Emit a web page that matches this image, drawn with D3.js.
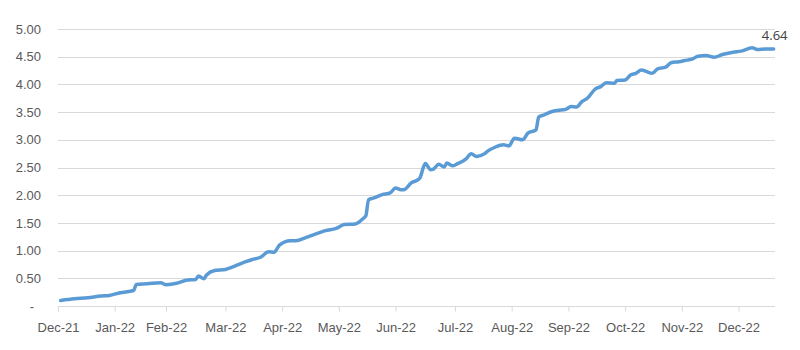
<!DOCTYPE html>
<html>
<head>
<meta charset="utf-8">
<script src="https://cdn.jsdelivr.net/npm/d3@7"></script>
<style>
  body { margin: 0; background: #fff; }
  svg { font-family: "Open Sans", "Liberation Sans", sans-serif; }
  .grid line { stroke: #d9d9d9; stroke-width: 1; }
  .axis text { fill: #595959; font-size: 13px; }
</style>
</head>
<body>
<svg id="chart" width="800" height="350"></svg>
<script>
// trading-day index from start of Dec-21
var dayIndex = [1, 6, 11, 16, 19, 23, 28, 29, 33, 38, 40, 44, 48, 51, 52, 54, 55, 58, 62, 65,
  69, 72, 75, 78, 80, 82, 86, 88, 92, 96, 99, 103, 106, 110, 113, 114, 115, 117, 120, 123,
  125, 127, 128, 131, 133, 134, 136, 138, 139, 141, 143, 144, 146, 148, 151, 153, 155, 158, 159, 162,
  165, 167, 169, 172, 174, 177, 178, 180, 183, 185, 188, 190, 192, 194, 196, 199, 201, 203, 206, 207,
  210, 212, 214, 216, 218, 220, 222, 225, 227, 230, 232, 235, 237, 240, 243, 246, 250, 253, 257, 259,
  262, 265];
var rate = [0.10, 0.13, 0.15, 0.18, 0.19, 0.24, 0.28, 0.39, 0.40, 0.42, 0.385, 0.41, 0.47, 0.48, 0.54, 0.49, 0.56, 0.64, 0.66, 0.71,
  0.79, 0.84, 0.88, 0.98, 0.97, 1.10, 1.18, 1.18, 1.24, 1.31, 1.36, 1.40, 1.47, 1.48, 1.58, 1.63, 1.92, 1.95, 2.01, 2.04,
  2.13, 2.10, 2.10, 2.23, 2.27, 2.31, 2.57, 2.46, 2.47, 2.56, 2.51, 2.58, 2.53, 2.57, 2.65, 2.75, 2.70, 2.75, 2.79, 2.87,
  2.91, 2.89, 3.03, 3.00, 3.12, 3.18, 3.41, 3.45, 3.51, 3.53, 3.55, 3.60, 3.59, 3.69, 3.75, 3.92, 3.96, 4.03, 4.02, 4.07,
  4.08, 4.17, 4.20, 4.26, 4.23, 4.20, 4.28, 4.31, 4.39, 4.41, 4.43, 4.46, 4.51, 4.52, 4.49, 4.54, 4.58, 4.60, 4.66, 4.63,
  4.64, 4.64];
var monthLabels = ["Dec-21", "Jan-22", "Feb-22", "Mar-22", "Apr-22", "May-22", "Jun-22",
  "Jul-22", "Aug-22", "Sep-22", "Oct-22", "Nov-22", "Dec-22"];
var monthStart = [0, 21, 40, 62, 83, 104, 125, 147, 168, 189, 210, 231, 252];
var yTicks = [0, 0.5, 1, 1.5, 2, 2.5, 3, 3.5, 4, 4.5, 5];

var data = dayIndex.map(function(d, i) { return { day: d, value: rate[i] }; });

var svg = d3.select("#chart"),
  plotLeft = 58, plotRight = 775, plotTop = 29, plotBottom = 306;

var x = d3.scaleLinear().domain([0, 265.5]).range([plotLeft, plotRight]);
var y = d3.scaleLinear().domain([0, 5]).range([plotBottom, plotTop]);

// horizontal gridlines
svg.append("g")
  .attr("class", "grid")
  .selectAll("line")
  .data(yTicks.filter(function(d) { return d > 0; }))
  .enter().append("line")
  .attr("x1", plotLeft).attr("x2", plotRight)
  .attr("y1", function(d) { return Math.round(y(d)) + 0.5; })
  .attr("y2", function(d) { return Math.round(y(d)) + 0.5; });

// y axis labels
var yAxis = svg.append("g")
  .attr("class", "axis")
  .attr("transform", "translate(" + (plotLeft - 17) + ",0)")
  .call(d3.axisLeft(y).tickValues(yTicks).tickSize(0).tickPadding(0)
    .tickFormat(function(d) { return d === 0 ? "-" : d3.format(".2f")(d); }));
yAxis.select(".domain").remove();
yAxis.selectAll("text").filter(function(d) { return d === 0; }).attr("x", -7);

// x axis
var xAxis = svg.append("g")
  .attr("class", "axis")
  .attr("transform", "translate(0," + (Math.round(plotBottom) + 0.5) + ")")
  .call(d3.axisBottom(x).tickValues(monthStart).tickSize(5).tickPadding(11)
    .tickFormat(function(d, i) { return monthLabels[i]; }));
xAxis.select(".domain").attr("stroke", "#d9d9d9").attr("d", "M" + plotLeft + ",0H" + plotRight);
xAxis.selectAll(".tick line").attr("stroke", "#d9d9d9");

// series
var line = d3.line()
  .x(function(d) { return x(d.day); })
  .y(function(d) { return y(d.value); })
  .curve(d3.curveMonotoneX);

svg.append("path")
  .datum(data)
  .attr("fill", "none")
  .attr("stroke", "#5b9bd5")
  .attr("stroke-width", 3.5)
  .attr("stroke-linejoin", "round")
  .attr("stroke-linecap", "round")
  .attr("d", line);

// last value label
var last = data[data.length - 1];
svg.append("text")
  .attr("x", x(last.day) + 1)
  .attr("y", y(last.value) - 9)
  .attr("text-anchor", "middle")
  .attr("fill", "#404040")
  .attr("font-size", "13px")
  .text(d3.format(".2f")(last.value));
</script>
</body>
</html>
